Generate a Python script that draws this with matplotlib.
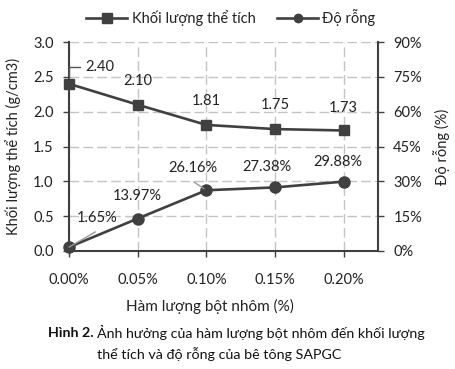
import matplotlib
matplotlib.use("Agg")
import matplotlib.pyplot as plt
from matplotlib.lines import Line2D

categories = ["0.00%", "0.05%", "0.10%", "0.15%", "0.20%"]
density = [2.40, 2.10, 1.81, 1.75, 1.73]
porosity = [1.65, 13.97, 26.16, 27.38, 29.88]
left_ticks = [0.0, 0.5, 1.0, 1.5, 2.0, 2.5, 3.0]
right_ticks = [0, 15, 30, 45, 60, 75, 90]

FONT = ["Lato", "DejaVu Sans"]
plt.rcParams['font.family'] = FONT
LC = "#404040"
GC = "#c4c4c4"
TC = "#222222"
FS = 10.5

W, H = 455, 369
fig = plt.figure(figsize=(W/100, H/100), dpi=100)
ax = fig.add_axes([69/W, 1-251/H, (378-69)/W, (251-42)/H])
ax2 = ax.twinx()
AW, AH = 378-69, 251-42

x = list(range(len(categories)))
ax.plot(x, density, color=LC, lw=1.9, marker="s", ms=7.5, zorder=3, clip_on=False)
ax2.plot(x, porosity, color=LC, lw=1.9, marker="o", ms=8, zorder=3, clip_on=False)

ax.set_xlim(0, 4.5)
ax.set_ylim(0, 3.0)
ax2.set_ylim(0, 90)
ax.set_xticks(x)
ax.set_xticklabels(categories)
ax.set_yticks(left_ticks)
ax.set_yticklabels([f"{v:.1f}" for v in left_ticks])
ax2.set_yticks(right_ticks)
ax2.set_yticklabels([f"{v}%" for v in right_ticks])

for a in (ax, ax2):
    a.tick_params(labelsize=FS, colors=TC, length=4, width=1, color=LC, pad=7)
    for s in a.spines.values():
        s.set_visible(False)
ax.tick_params(axis="x", pad=12)
ax.spines['left'].set_visible(True)
ax.spines['bottom'].set_visible(True)
ax2.spines['right'].set_visible(True)
for s in (ax.spines['left'], ax.spines['bottom'], ax2.spines['right']):
    s.set_color(LC); s.set_linewidth(1.5)

ax.grid(True, color=GC, ls=(0, (7, 3)), lw=1)
ax.set_axisbelow(True)

ax.set_xlabel("Hàm lượng bột nhôm (%)", fontsize=FS + 0.5, color=TC)
ax.xaxis.set_label_coords((210-69)/AW, -(299-251)/AH)
ax.set_ylabel("Khối lượng thể tích (g/cm3)", fontsize=FS, color=TC)
ax.yaxis.set_label_coords(-(69-21)/AW, 0.5)
ax2.set_ylabel("Độ rỗng (%)", fontsize=FS, color=TC)
ax2.yaxis.set_label_coords(1 + (433-378)/AW, 0.5)

# density labels (offsets in points)
d_off = [(12, 12), (0, 17), (0, 17), (0, 17), (0, 16.5)]
for i, (v, off) in enumerate(zip(density, d_off)):
    ax.annotate(f"{v:.2f}", (i, v), xytext=off, textcoords="offset points",
                ha="left" if i == 0 else "center", va="center", fontsize=FS, color=TC,
                annotation_clip=False)
ax.annotate("", (0, density[0]), xytext=(8, 12), textcoords="offset points",
            arrowprops=dict(arrowstyle="-", color="#555555", lw=1, shrinkA=0, shrinkB=4,
                            connectionstyle="angle,angleA=0,angleB=90,rad=0"))

p_off = [(20, 21), (0, 16.5), (-10, 16), (-6, 15), (-4, 14)]
for i, (v, off) in enumerate(zip(porosity, p_off)):
    ax2.annotate(f"{v:.2f}%", (i, v), xytext=off, textcoords="offset points",
                 ha="center", va="center", fontsize=FS, color=TC, annotation_clip=False)
ax2.annotate("", (0, porosity[0]), xytext=(19, 11), textcoords="offset points",
             arrowprops=dict(arrowstyle="-", color="#999999", lw=1, shrinkA=0, shrinkB=0))
ax2.annotate("", (2, porosity[2]), xytext=(-9, 6), textcoords="offset points",
             arrowprops=dict(arrowstyle="-", color="#999999", lw=1, shrinkA=0, shrinkB=2))

handles = [Line2D([], [], color=LC, lw=1.9, marker="s", ms=7.5),
           Line2D([], [], color=LC, lw=1.9, marker="o", ms=6)]
fig.legend(handles, ["Khối lượng thể tích", "Độ rỗng"], loc="center",
           bbox_to_anchor=(231/W, 1-18/H), ncol=2, frameon=False, fontsize=FS,
           handlelength=2.8, handletextpad=0.3, columnspacing=1.5, labelcolor=TC)

# caption
CAP = ["Lato", "DejaVu Sans"]
CFS = 10.3
fig.canvas.draw()
r = fig.canvas.get_renderer()
t1 = fig.text(48/W, 1-333/H, "Hình 2.", fontsize=CFS, fontweight="bold", family=CAP,
              ha="left", va="center", color="#111111")
bb = t1.get_window_extent(r)
fig.text((bb.x1 + 3)/W, 1-333/H, "Ảnh hưởng của hàm lượng bột nhôm đến khối lượng",
         fontsize=CFS, family=CAP, ha="left", va="center", color="#111111")
fig.text(219/W, 1-354/H, "thể tích và độ rỗng của bê tông SAPGC",
         fontsize=CFS, family=CAP, ha="center", va="center", color="#111111")

fig.savefig("out.png", dpi=100)
